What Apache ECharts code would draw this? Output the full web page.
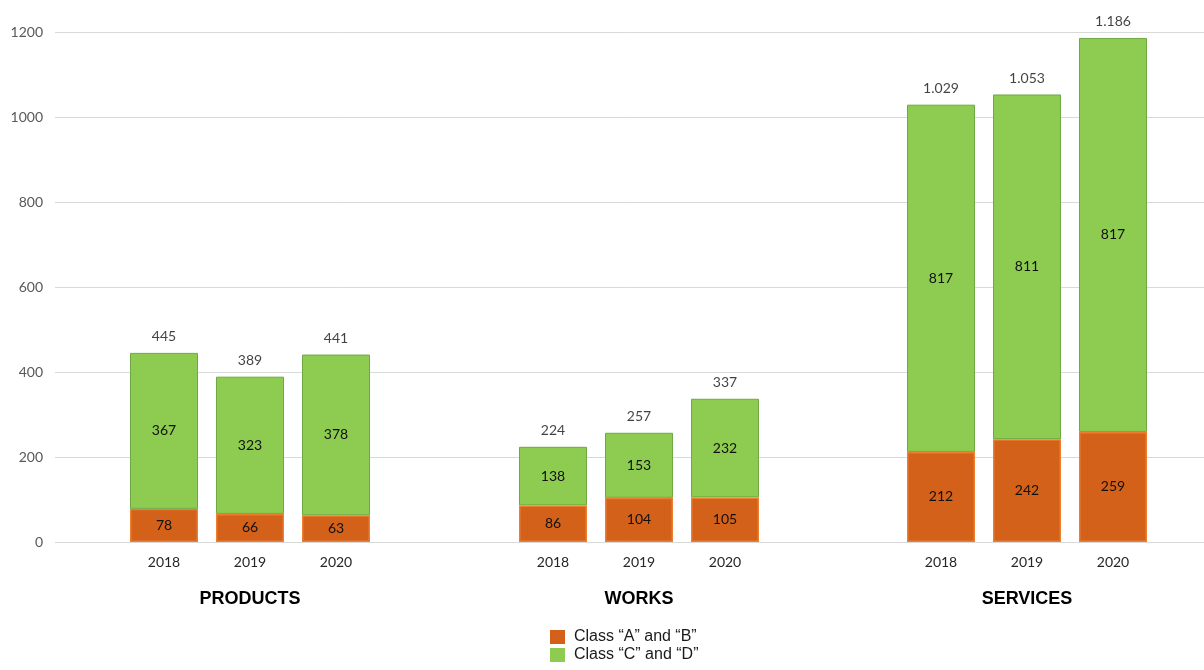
<!DOCTYPE html>
<html>
<head>
<meta charset="utf-8">
<script src="https://cdn.jsdelivr.net/npm/echarts@6/dist/echarts.min.js"></script>
<style>
  html, body { margin: 0; padding: 0; background: #ffffff; }
  #chart { width: 1204px; height: 670px; }
</style>
</head>
<body>
<div id="chart"></div>
<script>
// Contract counts by procedure class, per sector and year
const groups = ['PRODUCTS', 'WORKS', 'SERVICES'];
const years = ['2018', '2019', '2020'];
const yTicks = [0, 200, 400, 600, 800, 1000, 1200];

const classAB = [
  [78, 66, 63],
  [86, 104, 105],
  [212, 242, 259]
];
const classCD = [
  [367, 323, 378],
  [138, 153, 232],
  [817, 811, 927]
];
// printed figures inside the green segments
const classCDText = [
  [367, 323, 378],
  [138, 153, 232],
  [817, 811, 817]
];
const totals = [
  [445, 389, 441],
  [224, 257, 337],
  [1029, 1053, 1186]
];

const NAME_AB = 'Class \u201CA\u201D and \u201CB\u201D';
const NAME_CD = 'Class \u201CC\u201D and \u201CD\u201D';

const ORANGE = '#D3611A', ORANGE_EDGE = '#EC7E2E';
const GREEN = '#8DCB51', GREEN_EDGE = '#6EA843';
const FONT = 'Lato, "Open Sans", sans-serif';
const SANS = '"Liberation Sans", Arial, sans-serif';

function dotThousands(n) {
  return String(n).replace(/\B(?=(\d{3})+(?!\d))/g, '.');
}

const TOP = 32, BOTTOM = 128;
const groupLefts = [121, 510, 898];
const groupWidth = 258;

const grids = [{ left: 55, right: 0, top: TOP, bottom: BOTTOM }];
const xAxes = [{ type: 'category', gridIndex: 0, show: false, data: years }];
const yAxes = [{
  type: 'value', gridIndex: 0, min: yTicks[0], max: yTicks[yTicks.length - 1],
  interval: yTicks[1] - yTicks[0],
  axisLine: { show: false }, axisTick: { show: false },
  axisLabel: { color: '#595959', fontSize: 14, fontFamily: FONT, margin: 12, formatter: v => String(v) },
  splitLine: { lineStyle: { color: '#D9D9D9', width: 1 } }
}];
const series = [];

groups.forEach((g, gi) => {
  const idx = gi + 1;
  grids.push({ left: groupLefts[gi], width: groupWidth, top: TOP, bottom: BOTTOM });
  xAxes.push({
    type: 'category', gridIndex: idx, data: years,
    axisLine: { show: false }, axisTick: { show: false },
    axisLabel: { color: '#262626', fontSize: 14, fontFamily: FONT, margin: 13 },
    name: g, nameLocation: 'middle', nameGap: 48,
    nameTextStyle: { fontFamily: SANS, fontWeight: 'bold', fontSize: 18, color: '#000000' }
  });
  yAxes.push({
    type: 'value', gridIndex: idx, min: yTicks[0], max: yTicks[yTicks.length - 1],
    show: false, splitLine: { show: false }
  });
  series.push({
    name: NAME_AB, type: 'bar', stack: 's' + gi, xAxisIndex: idx, yAxisIndex: idx,
    barWidth: 68, data: classAB[gi],
    itemStyle: { color: ORANGE, borderColor: ORANGE_EDGE, borderWidth: 1.5 },
    label: { show: true, position: 'inside', color: '#111111', fontSize: 14, fontFamily: FONT }
  });
  series.push({
    name: NAME_CD, type: 'bar', stack: 's' + gi, xAxisIndex: idx, yAxisIndex: idx,
    barWidth: 68, data: classCD[gi],
    itemStyle: { color: GREEN, borderColor: GREEN_EDGE, borderWidth: 1 },
    label: {
      show: true, position: 'inside', color: '#111111', fontSize: 14, fontFamily: FONT,
      formatter: p => String(classCDText[gi][p.dataIndex])
    }
  });
  series.push({
    name: 'total', type: 'scatter', xAxisIndex: idx, yAxisIndex: idx,
    symbolSize: 0, data: totals[gi], silent: true,
    label: {
      show: true, position: 'top', distance: 9, color: '#111111', fontSize: 14, fontFamily: FONT,
      formatter: p => dotThousands(p.value)
    }
  });
});

function legendRow(name, color, top) {
  return {
    data: [{ name: name, itemStyle: { color: color, borderWidth: 0 } }],
    orient: 'vertical', left: 550, top: top, padding: 0,
    itemWidth: 15, itemHeight: 14, itemGap: 0, icon: 'rect',
    textStyle: { fontFamily: SANS, fontSize: 16, color: '#1a1a1a', padding: [0, 0, 0, 4] }
  };
}

const chart = echarts.init(document.getElementById('chart'), null, { renderer: 'canvas' });
chart.setOption({
  animation: false,
  backgroundColor: '#ffffff',
  grid: grids,
  xAxis: xAxes,
  yAxis: yAxes,
  legend: [
    legendRow(NAME_AB, ORANGE, 629),
    legendRow(NAME_CD, GREEN, 647)
  ],
  series: series
});
</script>
</body>
</html>
